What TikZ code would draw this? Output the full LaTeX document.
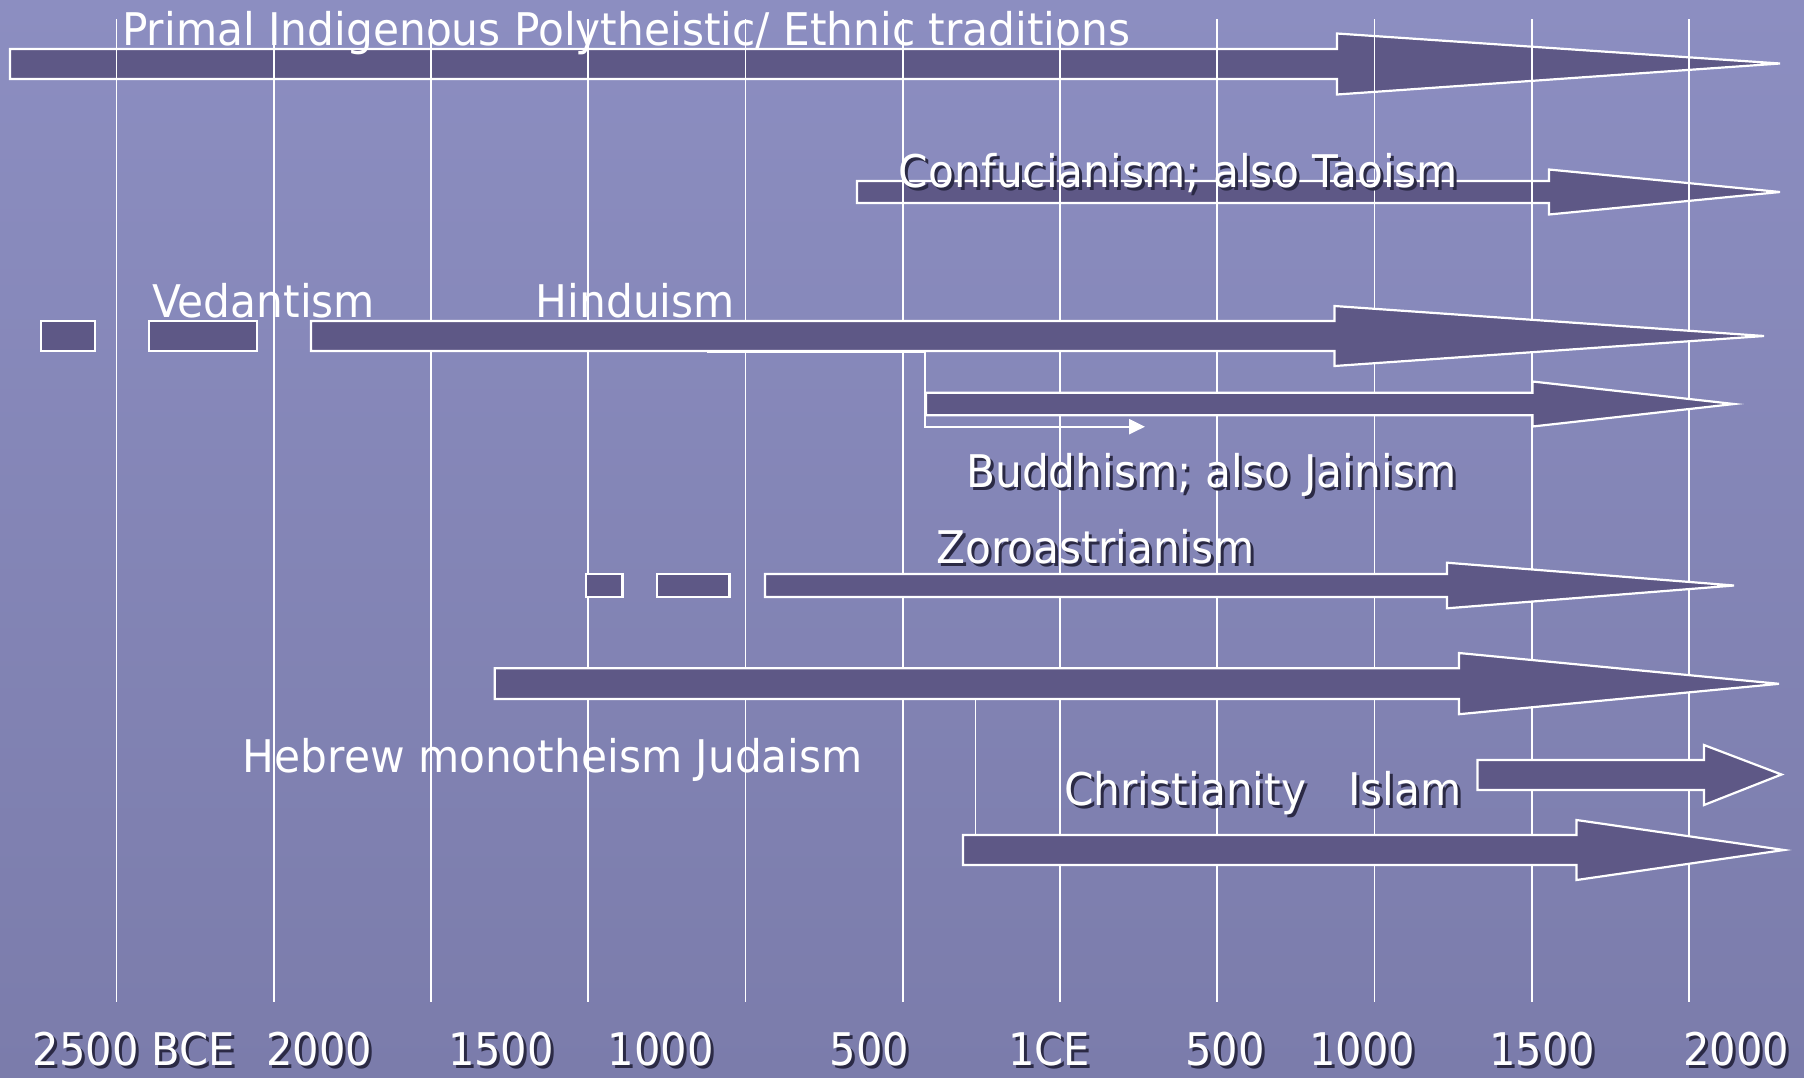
\documentclass[tikz,border=0pt]{standalone}
\usepackage{fontspec}
\setmainfont{DejaVu Sans}[FakeStretch=0.94]
\newfontfamily\axisfont{DejaVu Sans}[FakeStretch=0.925]
\usetikzlibrary{arrows.meta}
\definecolor{bgtop}{HTML}{8C8EC1}
\definecolor{bgbot}{HTML}{7B7CAB}
\definecolor{afill}{HTML}{5E5886}
\definecolor{shad}{HTML}{2B2A45}
\tikzset{
  blockarrow/.style={fill=afill, draw=white, line width=2.2pt, line join=miter},
  gridline/.style={white, line width=1.6pt},
  lbl/.style={anchor=base west, inner sep=0pt, text=white, font=\fontsize{45}{54}\selectfont},
  lblshadow/.style={lbl, text=shad},
  connector/.style={white, line width=2.4pt, -{Triangle[length=16pt,width=15pt]}},
}
% #1 x0, #2 yc, #3 half shaft, #4 head x, #5 half head, #6 tip x, #7 tip y
\newcommand\blockarr[7]{%
  \path[blockarrow] (#1,#2-#3) -- (#4,#2-#3) -- (#4,#2-#5) -- (#6,#7) -- (#4,#2+#5) -- (#4,#2+#3) -- (#1,#2+#3) -- cycle;}
\newcommand\shlabel[4]{%
  \node[lblshadow] (#1s) at (#2+3,#3+3) {#4};
  \node[lbl] (#1) at (#2,#3) {#4};}
\begin{document}
\begin{tikzpicture}[x=1pt,y=-1pt]
\useasboundingbox (0,0) rectangle (1804,1077);
\shade[top color=bgtop, bottom color=bgbot] (0,0) rectangle (1804,1077);
% arrows lying under the grid
\blockarr{10}{64}{15}{1337}{30.5}{1780}{63.5}
\blockarr{857}{192}{11}{1549}{22.5}{1780}{192}
% grid
\foreach \k in {0,...,10}
  \draw[gridline] ({116.5+157.25*\k},19) -- ({116.5+157.25*\k},1001.5);
% Vedantism / Hinduism
\path[blockarrow] (41.3,321) rectangle (95.3,351);
\path[blockarrow] (148.7,321) rectangle (256.6,351);
\blockarr{311}{336}{15}{1334.5}{30}{1764}{336}
% Buddhism
\blockarr{926}{404}{11.3}{1532.6}{22.5}{1734}{404}
\coordinate (bA) at (706.8,351.5);
\coordinate (bB) at (925,351.5);
\coordinate (bC) at (925,426.7);
\coordinate (bD) at (1145,426.7);
\draw[connector] (bA) -- (bB) -- (bC) -- (bD);
% Zoroastrianism
\path[blockarrow] (585.6,574) rectangle (622.4,597);
\path[blockarrow] (657,574) rectangle (729.4,597);
\blockarr{765}{585.5}{11.5}{1447}{22.8}{1734}{585.5}
% Judaism
\blockarr{494.7}{683.6}{15.3}{1459}{30.6}{1779}{683.8}
% Islam
\blockarr{1477.5}{775}{15}{1704}{30}{1781.5}{774.5}
% Christianity
\blockarr{963}{850}{15}{1576.5}{30}{1784}{850}
\coordinate (jC) at (975.6,699);
\coordinate (cC) at (975.6,835);
\draw[gridline] (jC) -- (cC);
% labels
\node[lbl] (primal) at (122,45) {Primal Indigenous Polytheistic/ Ethnic traditions};
\shlabel{conf}{898.7}{187}{Confucianism; also Taoism}
\node[lbl] (veda) at (152,317) {Vedantism};
\node[lbl] (hindu) at (535.6,317) {Hinduism};
\shlabel{budd}{966}{487}{Buddhism; also Jainism}
\shlabel{zoro}{936}{563.3}{Zoroastrianism}
\node[lbl] (hebrew) at (242.7,772) {Hebrew monotheism Judaism};
\shlabel{chris}{1064}{805}{Christianity\hspace{42pt}Islam}
% axis labels
\shlabel{t1}{32.5}{1065}{\axisfont 2500 BCE}
\shlabel{t2}{266}{1065}{\axisfont 2000}
\shlabel{t3}{447.8}{1065}{\axisfont 1500}
\shlabel{t4}{607.5}{1065}{\axisfont 1000}
\shlabel{t5}{829.5}{1065}{\axisfont 500}
\shlabel{t6}{1008}{1065}{\axisfont 1CE}
\shlabel{t7}{1185}{1065}{\axisfont 500}
\shlabel{t8}{1309}{1065}{\axisfont 1000}
\shlabel{t9}{1489}{1065}{\axisfont 1500}
\shlabel{t10}{1683}{1065}{\axisfont 2000}
\end{tikzpicture}
\end{document}
